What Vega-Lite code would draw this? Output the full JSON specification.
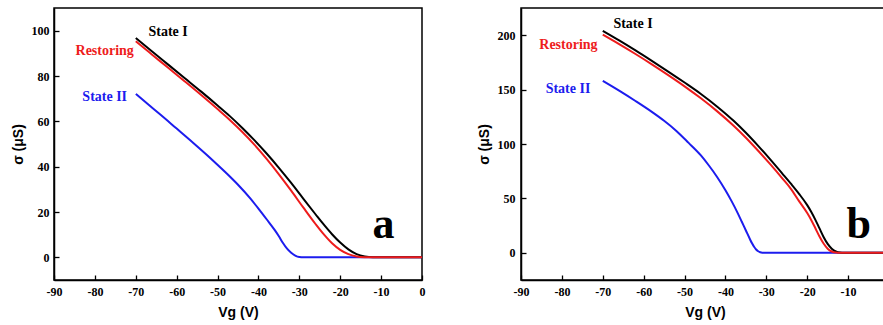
{
  "$schema": "https://vega.github.io/schema/vega-lite/v6.json",
  "padding": {"left": 10, "top": 7, "right": 0, "bottom": 0},
  "spacing": 49,
  "config": {
    "view": {"stroke": "black", "strokeWidth": 1.5},
    "axis": {"domainColor": "black", "domainWidth": 1.5, "tickColor": "black", "tickWidth": 1.3, "labelFont": "Liberation Serif", "labelFontWeight": "bold", "labelFontSize": 12, "labelColor": "black", "titleFont": "Liberation Sans", "titleFontWeight": "bold", "titleFontSize": 14, "titleColor": "black", "grid": false, "labelOverlap": false, "labelFlush": false}
  },
  "datasets": {
    "a": [
      {"s": "State II", "v": -70, "y": 72.1}, {"s": "State II", "v": -67, "y": 67.5}, {"s": "State II", "v": -64, "y": 63.0}, {"s": "State II", "v": -60, "y": 56.8}, {"s": "State II", "v": -56, "y": 50.6}, {"s": "State II", "v": -52, "y": 44.2}, {"s": "State II", "v": -48, "y": 37.4}, {"s": "State II", "v": -45, "y": 32.0}, {"s": "State II", "v": -42, "y": 26.0}, {"s": "State II", "v": -40, "y": 21.5}, {"s": "State II", "v": -38, "y": 16.8}, {"s": "State II", "v": -36, "y": 12.0}, {"s": "State II", "v": -35, "y": 9.3}, {"s": "State II", "v": -34, "y": 6.3}, {"s": "State II", "v": -33, "y": 3.8}, {"s": "State II", "v": -32, "y": 2.0}, {"s": "State II", "v": -31, "y": 0.8}, {"s": "State II", "v": -30, "y": 0.15}, {"s": "State II", "v": -29, "y": 0}, {"s": "State II", "v": 0, "y": 0},
      {"s": "State I", "v": -70, "y": 96.8}, {"s": "State I", "v": -66, "y": 90.8}, {"s": "State I", "v": -62, "y": 84.9}, {"s": "State I", "v": -58, "y": 79.0}, {"s": "State I", "v": -54, "y": 73.1}, {"s": "State I", "v": -50, "y": 67.0}, {"s": "State I", "v": -47, "y": 62.3}, {"s": "State I", "v": -44, "y": 57.2}, {"s": "State I", "v": -41, "y": 51.7}, {"s": "State I", "v": -38, "y": 45.8}, {"s": "State I", "v": -35, "y": 39.5}, {"s": "State I", "v": -32, "y": 32.8}, {"s": "State I", "v": -29, "y": 25.8}, {"s": "State I", "v": -26, "y": 18.9}, {"s": "State I", "v": -24, "y": 14.4}, {"s": "State I", "v": -22, "y": 10.2}, {"s": "State I", "v": -20, "y": 6.5}, {"s": "State I", "v": -18, "y": 3.5}, {"s": "State I", "v": -16, "y": 1.4}, {"s": "State I", "v": -14, "y": 0.35}, {"s": "State I", "v": -12, "y": 0}, {"s": "State I", "v": 0, "y": 0},
      {"s": "Restoring", "v": -70, "y": 95.3}, {"s": "Restoring", "v": -66, "y": 89.4}, {"s": "Restoring", "v": -62, "y": 83.5}, {"s": "Restoring", "v": -58, "y": 77.6}, {"s": "Restoring", "v": -54, "y": 71.6}, {"s": "Restoring", "v": -50, "y": 65.4}, {"s": "Restoring", "v": -47, "y": 60.6}, {"s": "Restoring", "v": -44, "y": 55.4}, {"s": "Restoring", "v": -41, "y": 49.7}, {"s": "Restoring", "v": -38, "y": 43.4}, {"s": "Restoring", "v": -35, "y": 36.6}, {"s": "Restoring", "v": -32, "y": 29.4}, {"s": "Restoring", "v": -29, "y": 21.9}, {"s": "Restoring", "v": -26, "y": 14.6}, {"s": "Restoring", "v": -24, "y": 10.1}, {"s": "Restoring", "v": -22, "y": 6.2}, {"s": "Restoring", "v": -20, "y": 3.3}, {"s": "Restoring", "v": -18, "y": 1.4}, {"s": "Restoring", "v": -16, "y": 0.4}, {"s": "Restoring", "v": -14, "y": 0.05}, {"s": "Restoring", "v": -13, "y": 0}, {"s": "Restoring", "v": 0, "y": 0}
    ],
    "b": [
      {"s": "State II", "v": -70, "y": 158}, {"s": "State II", "v": -66, "y": 149}, {"s": "State II", "v": -62, "y": 139.5}, {"s": "State II", "v": -58, "y": 129.5}, {"s": "State II", "v": -55, "y": 121.3}, {"s": "State II", "v": -52, "y": 112}, {"s": "State II", "v": -49, "y": 101}, {"s": "State II", "v": -46, "y": 89.5}, {"s": "State II", "v": -44, "y": 80}, {"s": "State II", "v": -42, "y": 69.5}, {"s": "State II", "v": -40, "y": 57.5}, {"s": "State II", "v": -38.5, "y": 47.5}, {"s": "State II", "v": -37, "y": 36.5}, {"s": "State II", "v": -36, "y": 28.5}, {"s": "State II", "v": -35, "y": 20.5}, {"s": "State II", "v": -34, "y": 12.5}, {"s": "State II", "v": -33.5, "y": 8.7}, {"s": "State II", "v": -33, "y": 5.5}, {"s": "State II", "v": -32.5, "y": 3.0}, {"s": "State II", "v": -32, "y": 1.4}, {"s": "State II", "v": -31.5, "y": 0.5}, {"s": "State II", "v": -31, "y": 0.1}, {"s": "State II", "v": -30, "y": 0}, {"s": "State II", "v": 0, "y": 0},
      {"s": "State I", "v": -70, "y": 204}, {"s": "State I", "v": -66, "y": 195.2}, {"s": "State I", "v": -62, "y": 186.0}, {"s": "State I", "v": -58, "y": 176.4}, {"s": "State I", "v": -54, "y": 166.6}, {"s": "State I", "v": -50, "y": 156.5}, {"s": "State I", "v": -46, "y": 146.0}, {"s": "State I", "v": -42, "y": 134.3}, {"s": "State I", "v": -38, "y": 121.3}, {"s": "State I", "v": -35, "y": 110.3}, {"s": "State I", "v": -32, "y": 98.3}, {"s": "State I", "v": -29, "y": 85.6}, {"s": "State I", "v": -26, "y": 72.4}, {"s": "State I", "v": -24, "y": 63.5}, {"s": "State I", "v": -22, "y": 54.2}, {"s": "State I", "v": -20, "y": 43.8}, {"s": "State I", "v": -19, "y": 37.5}, {"s": "State I", "v": -18, "y": 30.3}, {"s": "State I", "v": -17, "y": 22.4}, {"s": "State I", "v": -16, "y": 14.6}, {"s": "State I", "v": -15, "y": 8.2}, {"s": "State I", "v": -14, "y": 3.8}, {"s": "State I", "v": -13, "y": 1.2}, {"s": "State I", "v": -12, "y": 0.2}, {"s": "State I", "v": -11, "y": 0}, {"s": "State I", "v": 0, "y": 0},
      {"s": "Restoring", "v": -70, "y": 200.5}, {"s": "Restoring", "v": -66, "y": 191.8}, {"s": "Restoring", "v": -62, "y": 182.7}, {"s": "Restoring", "v": -58, "y": 173.2}, {"s": "Restoring", "v": -54, "y": 163.3}, {"s": "Restoring", "v": -50, "y": 153.0}, {"s": "Restoring", "v": -46, "y": 142.0}, {"s": "Restoring", "v": -42, "y": 130.0}, {"s": "Restoring", "v": -38, "y": 116.8}, {"s": "Restoring", "v": -35, "y": 105.8}, {"s": "Restoring", "v": -32, "y": 93.8}, {"s": "Restoring", "v": -29, "y": 81.2}, {"s": "Restoring", "v": -26, "y": 68.0}, {"s": "Restoring", "v": -24, "y": 58.8}, {"s": "Restoring", "v": -22, "y": 47.5}, {"s": "Restoring", "v": -20, "y": 36.5}, {"s": "Restoring", "v": -19, "y": 30.0}, {"s": "Restoring", "v": -18, "y": 22.5}, {"s": "Restoring", "v": -17, "y": 15.0}, {"s": "Restoring", "v": -16, "y": 8.5}, {"s": "Restoring", "v": -15, "y": 3.8}, {"s": "Restoring", "v": -14, "y": 1.2}, {"s": "Restoring", "v": -13, "y": 0.2}, {"s": "Restoring", "v": -12, "y": 0}, {"s": "Restoring", "v": 0, "y": 0}
    ],
    "la": [
      {"s": "State I", "t": "State I", "v": -62.1, "y": 99.6},
      {"s": "Restoring", "t": "Restoring", "v": -77.6, "y": 90.9},
      {"s": "State II", "t": "State II", "v": -77.6, "y": 70.9}
    ],
    "lb": [
      {"s": "State I", "t": "State I", "v": -62.6, "y": 210},
      {"s": "Restoring", "t": "Restoring", "v": -78.4, "y": 190.8},
      {"s": "State II", "t": "State II", "v": -78.5, "y": 150.4}
    ]
  },
  "hconcat": [
    {
      "width": 368, "height": 272,
      "layer": [
        {
          "data": {"name": "a"},
          "mark": {"type": "line", "interpolate": "monotone", "strokeWidth": 2},
          "encoding": {
            "x": {"field": "v", "type": "quantitative", "scale": {"domain": [-90, 0], "nice": false},
              "axis": {"title": "Vg (V)", "values": [-90, -85, -80, -75, -70, -65, -60, -55, -50, -45, -40, -35, -30, -25, -20, -15, -10, -5, 0], "labelExpr": "datum.value % 10 === 0 ? '' + datum.value : ''", "tickSize": {"condition": {"test": "datum.value % 10 === 0", "value": -5}, "value": -3}, "labelPadding": 11, "titlePadding": 8}},
            "y": {"field": "y", "type": "quantitative", "scale": {"domain": [-10, 110], "nice": false, "zero": false},
              "axis": {"title": "σ (μS)", "values": [0, 10, 20, 30, 40, 50, 60, 70, 80, 90, 100], "labelExpr": "datum.value % 20 === 0 ? '' + datum.value : ''", "tickSize": {"condition": {"test": "datum.value % 20 === 0", "value": -5}, "value": -3}, "labelPadding": 10, "titlePadding": 6}},
            "color": {"field": "s", "type": "nominal", "scale": {"domain": ["State I", "Restoring", "State II"], "range": ["#000000", "#ee1c1c", "#1c1cee"]}, "legend": null}
          }
        },
        {
          "data": {"name": "la"},
          "mark": {"type": "text", "font": "Liberation Serif", "fontWeight": "bold", "fontSize": 14, "baseline": "middle", "align": "center"},
          "encoding": {
            "x": {"field": "v", "type": "quantitative"},
            "y": {"field": "y", "type": "quantitative"},
            "text": {"field": "t"},
            "color": {"field": "s", "type": "nominal", "legend": null}
          }
        },
        {
          "data": {"values": [{"t": "a", "v": -9.4, "y": 8.7}]},
          "mark": {"type": "text", "font": "Liberation Serif", "fontWeight": "bold", "fontSize": 44, "baseline": "alphabetic", "align": "center", "color": "black"},
          "encoding": {
            "x": {"field": "v", "type": "quantitative"},
            "y": {"field": "y", "type": "quantitative"},
            "text": {"field": "t"}
          }
        }
      ]
    },
    {
      "width": 368, "height": 272,
      "layer": [
        {
          "data": {"name": "b"},
          "mark": {"type": "line", "interpolate": "monotone", "strokeWidth": 2},
          "encoding": {
            "x": {"field": "v", "type": "quantitative", "scale": {"domain": [-90, 0], "nice": false},
              "axis": {"title": "Vg (V)", "values": [-90, -85, -80, -75, -70, -65, -60, -55, -50, -45, -40, -35, -30, -25, -20, -15, -10, -5, 0], "labelExpr": "datum.value % 10 === 0 && datum.value !== 0 ? '' + datum.value : ''", "tickSize": {"condition": {"test": "datum.value % 10 === 0", "value": -5}, "value": -3}, "labelPadding": 11, "titlePadding": 8}},
            "y": {"field": "y", "type": "quantitative", "scale": {"domain": [-25, 225], "nice": false, "zero": false},
              "axis": {"title": "σ (μS)", "values": [0, 25, 50, 75, 100, 125, 150, 175, 200], "labelExpr": "datum.value % 50 === 0 ? '' + datum.value : ''", "tickSize": {"condition": {"test": "datum.value % 50 === 0", "value": -5}, "value": -3}, "labelPadding": 11, "titlePadding": 6}},
            "color": {"field": "s", "type": "nominal", "scale": {"domain": ["State I", "Restoring", "State II"], "range": ["#000000", "#ee1c1c", "#1c1cee"]}, "legend": null}
          }
        },
        {
          "data": {"name": "lb"},
          "mark": {"type": "text", "font": "Liberation Serif", "fontWeight": "bold", "fontSize": 14, "baseline": "middle", "align": "center"},
          "encoding": {
            "x": {"field": "v", "type": "quantitative"},
            "y": {"field": "y", "type": "quantitative"},
            "text": {"field": "t"},
            "color": {"field": "s", "type": "nominal", "legend": null}
          }
        },
        {
          "data": {"values": [{"t": "b", "v": -7.4, "y": 13.5}]},
          "mark": {"type": "text", "font": "Liberation Serif", "fontWeight": "bold", "fontSize": 44, "baseline": "alphabetic", "align": "center", "color": "black"},
          "encoding": {
            "x": {"field": "v", "type": "quantitative"},
            "y": {"field": "y", "type": "quantitative"},
            "text": {"field": "t"}
          }
        }
      ]
    }
  ]
}
